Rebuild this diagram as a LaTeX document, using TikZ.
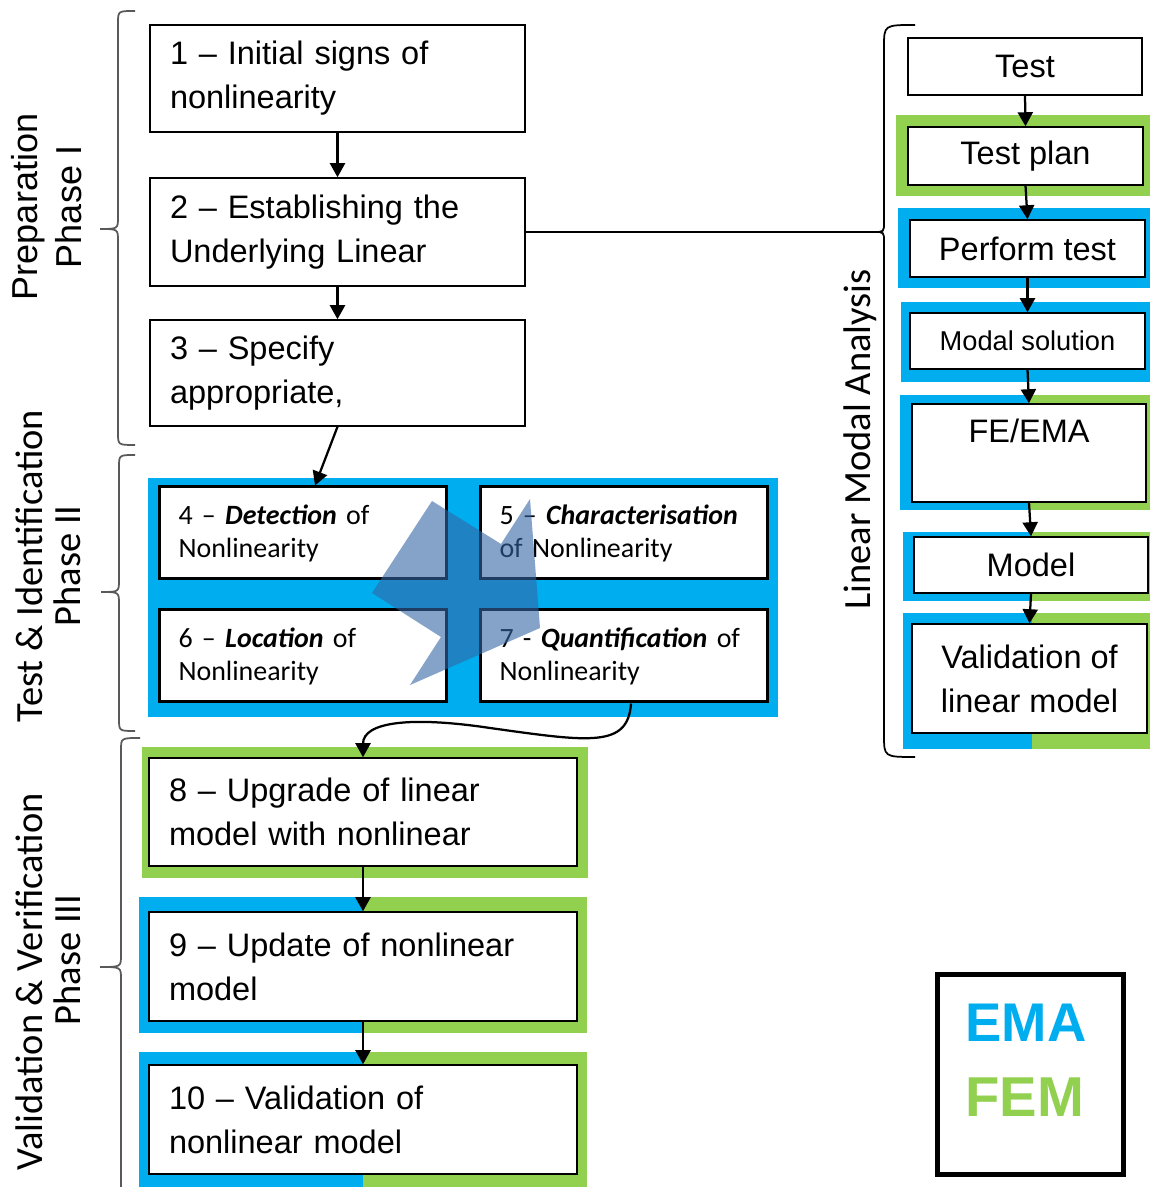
\documentclass[tikz,border=0pt]{standalone}
\usepackage{fontspec}
\setmainfont{Liberation Sans}
\newfontfamily\calibri{Carlito}
\usetikzlibrary{arrows.meta}
\definecolor{emablue}{RGB}{0,174,239}
\definecolor{femgreen}{RGB}{146,208,80}
\definecolor{arrowblue}{RGB}{52,101,164}

\begin{document}
\begin{tikzpicture}[
    stepbox/.style={draw, line width=0.03cm, fill=white, inner xsep=0.40cm, inner ysep=0cm, align=left, font=\fontsize{18.5}{25}\selectfont},
    nonbox/.style={draw, line width=0.06cm, fill=white, inner xsep=0.38cm, inner ysep=0cm, align=left, text width=4.980000cm, minimum height=1.840000cm, font=\calibri\fontsize{15.9}{18.8}\selectfont},
    modelbox/.style={draw, line width=0.03cm, fill=white, inner sep=0cm, align=center, font=\fontsize{18.5}{25}\selectfont},
    flowarrow/.style={-{Triangle[length=0.28cm,width=0.30cm]}, line width=0.045cm},
    phasebrace/.style={line width=0.035cm, draw=black!65},
    phaselabel/.style={rotate=90, align=center, font=\calibri\fontsize{21.9}{21.6}\selectfont}
]
\useasboundingbox (0,0) rectangle (23.000000,23.740000);

% Drawing coloured frames
\fill[emablue] (2.960000,9.400000) rectangle (15.560000,14.180000);%
\fill[femgreen] (2.840000,6.180000) rectangle (11.760000,8.800000);%
\fill[emablue] (2.780000,3.080000) rectangle (7.260000,5.800000);%
\fill[femgreen] (7.260000,3.080000) rectangle (11.740000,5.800000);%
\fill[emablue] (2.780000,-0.100000) rectangle (7.260000,2.700000);%
\fill[femgreen] (7.260000,-0.100000) rectangle (11.740000,2.700000);%
\fill[femgreen] (17.920000,19.820000) rectangle (23.000000,21.440000);%
\fill[emablue] (17.960000,17.980000) rectangle (23.000000,19.580000);%
\fill[emablue] (18.020000,16.100000) rectangle (23.000000,17.700000);%
\fill[emablue] (18.000000,13.540000) rectangle (20.580000,15.840000);%
\fill[femgreen] (20.580000,13.540000) rectangle (23.000000,15.840000);%
\fill[emablue] (18.060000,11.720000) rectangle (20.640000,13.100000);%
\fill[femgreen] (20.640000,11.720000) rectangle (23.000000,13.100000);%
\fill[emablue] (18.060000,8.760000) rectangle (20.640000,11.480000);%
\fill[femgreen] (20.640000,8.760000) rectangle (23.000000,11.480000);%

% Drawing steps of phase I
\node[stepbox, text width=6.700000cm, minimum height=2.140000cm] (step1) at (6.750000,22.170000) {1 – Initial signs of\\nonlinearity};%
\node[stepbox, text width=6.700000cm, minimum height=2.160000cm] (step2) at (6.750000,19.100000) {2 – Establishing the\\Underlying Linear};%
\node[stepbox, text width=6.700000cm, minimum height=2.120000cm] (step3) at (6.750000,16.280000) {3 – Specify\\appropriate,};%

% Drawing steps of phase II
\node[nonbox] (step4) at (6.060000,13.080000) {4 – \textbf{\textit{Detection}} of\\Nonlinearity};%
\node[nonbox] (step5) at (12.480000,13.080000) {5 – \textbf{\textit{Characterisation}}\\of Nonlinearity};%
\node[nonbox] (step6) at (6.060000,10.620000) {6 – \textbf{\textit{Location}} of\\Nonlinearity};%
\node[nonbox] (step7) at (12.480000,10.620000) {7 - \textbf{\textit{Quantification}} of\\Nonlinearity};%

% Drawing steps of phase III
\node[stepbox, text width=7.760000cm, minimum height=2.160000cm] (step8) at (7.260000,7.500000) {8 – Upgrade of linear\\model with nonlinear};%
\node[stepbox, text width=7.760000cm, minimum height=2.180000cm] (step9) at (7.260000,4.410000) {9 – Update of nonlinear\\model};%
\node[stepbox, text width=7.760000cm, minimum height=2.180000cm] (step10) at (7.260000,1.350000) {10 – Validation of\\nonlinear model};%

% Drawing linear modal analysis steps
\node[modelbox, minimum width=4.680000cm, minimum height=1.140000cm] (test) at (20.500000,22.410000) {Test};%
\node[modelbox, minimum width=4.700000cm, minimum height=1.160000cm] (testplan) at (20.510000,20.620000) {Test plan};%
\node[modelbox, minimum width=4.700000cm, minimum height=1.140000cm] (performtest) at (20.550000,18.770000) {Perform test};%
\node[modelbox, minimum width=4.700000cm, minimum height=1.120000cm, font=\fontsize{15.5}{20}\selectfont] (modalsolution) at (20.550000,16.920000) {Modal solution};%
\node[modelbox, minimum width=4.680000cm, minimum height=1.960000cm] (feema) at (20.580000,14.680000) {FE/EMA\\ \mbox{}};%
\node[modelbox, minimum width=4.680000cm, minimum height=1.120000cm] (model) at (20.620000,12.440000) {Model};%
\node[modelbox, minimum width=4.700000cm, minimum height=2.180000cm] (validation) at (20.590000,10.170000) {Validation of\\linear model};%

% Drawing the cycle arrow of phase II
\fill[arrowblue, fill opacity=0.6] (8.640000,13.720000) -- (10.020000,12.860000) -- (10.600000,13.760000) -- (10.800000,11.180000) -- (8.200000,10.040000) -- (8.820000,11.000000) -- (7.440000,11.880000) -- cycle;%

% Drawing connectors
\draw[flowarrow] (step1.south) -- (step2.north);%
\draw[flowarrow] (step2.south) -- (step3.north);%
\draw[flowarrow] (step3.south) -- ([xshift=0.24cm]step4.north);%
\coordinate (bend) at (9.800000,9.180000);%
\draw[flowarrow] ([xshift=0.14cm]step7.south) .. controls (12.560000,8.780000) and (11.800000,8.900000) .. (bend) .. controls (8.200000,9.420000) and (7.260000,9.300000) .. (step8.north);%
\draw[flowarrow] (step8.south) -- (step9.north);%
\draw[flowarrow] (step9.south) -- (step10.north);%
\draw[flowarrow] (test.south) -- (testplan.north);%
\draw[flowarrow] (testplan.south) -- (performtest.north);%
\draw[flowarrow] (performtest.south) -- (modalsolution.north);%
\draw[flowarrow] (modalsolution.south) -- (feema.north);%
\draw[flowarrow] (feema.south) -- (model.north);%
\draw[flowarrow] (model.south) -- (validation.north);%

% Drawing brace of phase I
\draw[phasebrace] (2.700000,23.520000) .. controls (2.360000,23.520000) .. (2.360000,23.280000) -- (2.360000,19.400000) .. controls (2.360000,19.160000) .. (2.000000,19.160000) .. controls (2.360000,19.160000) .. (2.360000,18.920000) -- (2.360000,15.080000) .. controls (2.360000,14.840000) .. (2.700000,14.840000);%

% Drawing brace of phase II
\draw[phasebrace] (2.700000,14.640000) .. controls (2.380000,14.640000) .. (2.380000,14.400000) -- (2.380000,12.140000) .. controls (2.380000,11.900000) .. (2.020000,11.900000) .. controls (2.380000,11.900000) .. (2.380000,11.660000) -- (2.380000,9.360000) .. controls (2.380000,9.120000) .. (2.700000,9.120000);%

% Drawing brace of phase III
\draw[phasebrace] (2.800000,8.980000) .. controls (2.420000,8.980000) .. (2.420000,8.740000) -- (2.420000,4.640000) .. controls (2.420000,4.400000) .. (2.000000,4.400000) .. controls (2.420000,4.400000) .. (2.420000,4.160000) -- (2.420000,-0.100000);%

% Drawing brace of linear modal analysis
\coordinate (lmatip) at (17.480000,19.100000);%
\draw[line width=0.035cm] (18.300000,23.240000) .. controls (17.680000,23.240000) .. (17.680000,22.800000) -- (17.680000,19.300000) .. controls (17.680000,19.100000) .. (lmatip) .. controls (17.680000,19.100000) .. (17.680000,18.900000) -- (17.680000,9.040000) .. controls (17.680000,8.600000) .. (18.300000,8.600000);%
\draw[line width=0.03cm] (step2.east) -- (lmatip);%

% Drawing phase labels
\node[rotate=90, align=center, font=\fontsize{20.5}{25}\selectfont] (prepphase) at (0.940000,19.600000) {Preparation\\Phase I};%
\node[phaselabel] (testphase) at (0.960000,12.420000) {Test \& Identification\\Phase II};%
\node[phaselabel] (valphase) at (0.960000,4.100000) {Validation \& Verification\\\hspace*{0.88cm}Phase III};%
\node[rotate=90, font=\calibri\fontsize{21.9}{21.6}\selectfont] (lmalabel) at (17.200000,14.950000) {Linear Modal Analysis};%

% Drawing legend
\draw[line width=0.1cm] (18.740000,0.240000) rectangle (22.460000,4.240000);%
\node[anchor=base west, inner sep=0cm, text=emablue, font=\bfseries\fontsize{31}{31}\selectfont] (emalabel) at (19.300000,2.900000) {EMA};%
\node[anchor=base west, inner sep=0cm, text=femgreen, font=\bfseries\fontsize{32}{32}\selectfont] (femlabel) at (19.300000,1.400000) {FEM};%
\end{tikzpicture}
\end{document}
